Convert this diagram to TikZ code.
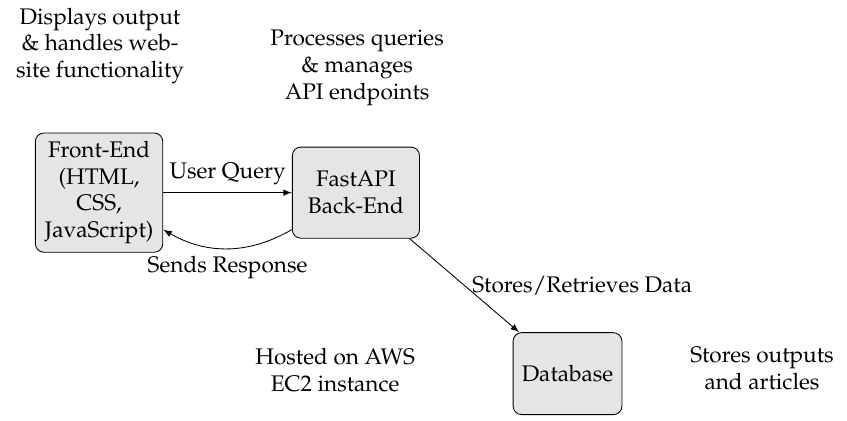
\documentclass[tikz,border=0pt]{standalone}
\usepackage[T1]{fontenc}
\usepackage{mathpazo}
\usetikzlibrary{positioning}
\usetikzlibrary{arrows}

\begin{document}
\fontsize{10.5}{12.4}\selectfont
\begin{tikzpicture}[
    box/.style={draw, rounded corners=4pt, fill=gray!20, align=center, inner sep=0.117cm},
    note/.style={align=center},
    >=latex]
  \useasboundingbox (0,0) rectangle (13.85,-6.88);

  % Components
  \node[box, text width=1.85cm, minimum height=1.95cm] (frontend) at (1.62,-3.15) {Front-End\\(HTML,\\CSS,\\JavaScript)};
  \node[box, minimum width=2.08cm, minimum height=1.49cm] (backend) at (5.82,-3.15) {FastAPI\\Back-End};
  \node[box, minimum width=1.78cm, minimum height=1.34cm] (database) at (9.28,-6.11) {Database};

  % Descriptions
  \node[note] (frontnote) at (1.635,-0.75) {Displays output\\\& handles web-\\site functionality};
  \node[note] (backnote) at (5.84,-1.11) {Processes queries\\\& manages\\API endpoints};
  \node[note] (hostnote) at (5.48,-6.05) {Hosted on AWS\\EC2 instance};
  \node[note] (dbnote) at (12.46,-6.02) {Stores outputs\\and articles};

  % Data flow
  \draw[->] (frontend) -- node[above] {User Query} (backend);
  \draw[->] (backend) to[bend left=30] node[below] {Sends Response} (frontend);
  \draw[->] (backend) -- node[midway, right] {Stores/Retrieves Data} (database);
\end{tikzpicture}
\end{document}
